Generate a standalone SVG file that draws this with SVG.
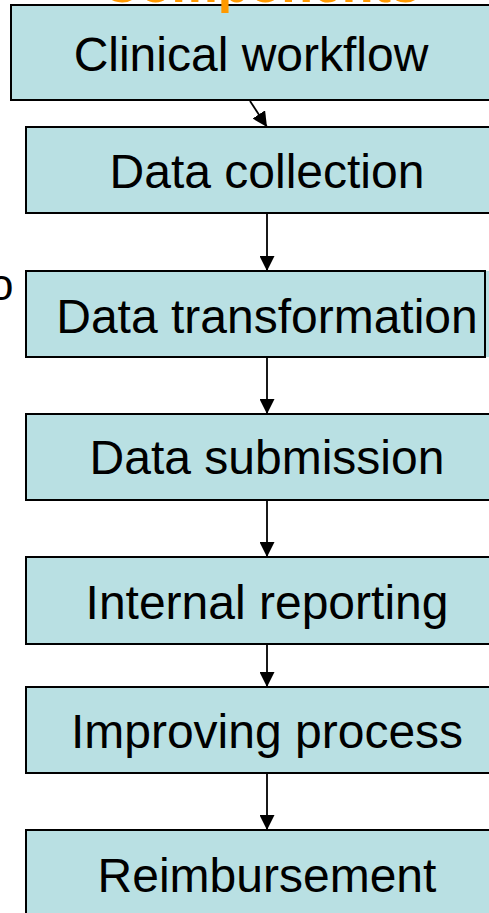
<svg xmlns="http://www.w3.org/2000/svg" width="489" height="913" viewBox="0 0 489 913">
<style>
.box{fill:#B9E0E3;stroke:#000;stroke-width:2}
.lbl{font-family:"Liberation Sans",Arial,sans-serif;font-size:48px;fill:#000;text-anchor:middle}
.conn{stroke:#000;stroke-width:1.8;fill:none;marker-end:url(#ah)}
</style>
<defs>
<marker id="ah" markerUnits="userSpaceOnUse" viewBox="0 0 14 14" refX="14" refY="7" markerWidth="15" markerHeight="15" orient="auto">
<path d="M0,0 L14,7 L0,14 Z" fill="#000"/>
</marker>
</defs>
<rect width="489" height="913" fill="#fff"/>
<text x="-11" y="300" font-family="Liberation Sans,Arial,sans-serif" font-size="44" fill="#000">o</text>
<g id="n1"><rect class="box" x="11" y="5" width="490" height="95"/><text class="lbl" x="251" y="71">Clinical workflow</text></g>
<g id="title"><text x="261" y="2" font-family="Liberation Sans,Arial,sans-serif" font-size="52" font-weight="bold" fill="#FF9900" text-anchor="middle">Components</text></g>
<g id="n2"><rect class="box" x="26" y="127" width="475" height="86"/><text class="lbl" x="267" y="188">Data collection</text></g>
<g id="n3"><rect x="480" y="271" width="10" height="86" fill="#B9E0E3"/><rect class="box" x="26" y="271" width="459" height="86"/><text class="lbl" x="267" y="333">Data transformation</text></g>
<g id="n4"><rect class="box" x="26" y="414" width="475" height="86"/><text class="lbl" x="267" y="474">Data submission</text></g>
<g id="n5"><rect class="box" x="26" y="557" width="475" height="87"/><text class="lbl" x="267" y="619">Internal reporting</text></g>
<g id="n6"><rect class="box" x="26" y="687" width="475" height="86"/><text class="lbl" x="267" y="748">Improving process</text></g>
<g id="n7"><rect class="box" x="26" y="830" width="475" height="100"/><text class="lbl" x="267" y="892">Reimbursement</text></g>
<g id="connectors">
<line class="conn" x1="250" y1="101" x2="267" y2="127"/>
<line class="conn" x1="267" y1="213" x2="267" y2="271"/>
<line class="conn" x1="267" y1="357" x2="267" y2="414"/>
<line class="conn" x1="267" y1="500" x2="267" y2="557"/>
<line class="conn" x1="267" y1="644" x2="267" y2="687"/>
<line class="conn" x1="267" y1="773" x2="267" y2="830"/>
</g>
</svg>
